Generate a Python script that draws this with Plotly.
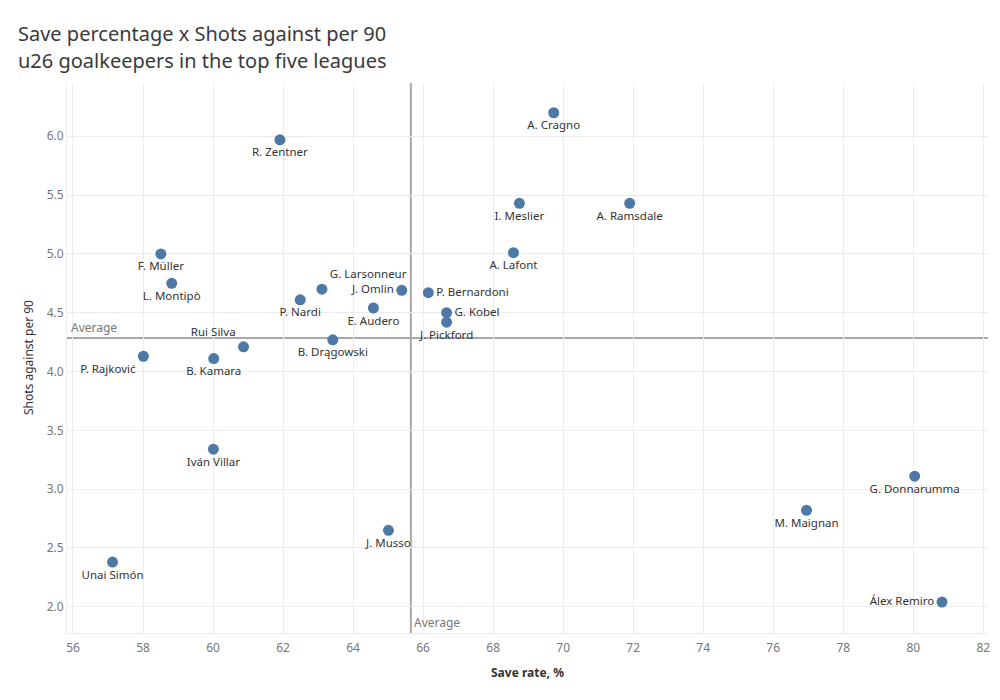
import plotly.graph_objects as go

# ---- data ----
players = ["A. Cragno", "R. Zentner", "I. Meslier", "A. Ramsdale", "F. Müller", "A. Lafont",
           "L. Montipò", "G. Larsonneur", "J. Omlin", "P. Bernardoni", "P. Nardi", "E. Audero",
           "G. Kobel", "J. Pickford", "B. Drągowski", "Rui Silva", "P. Rajković", "B. Kamara",
           "Iván Villar", "G. Donnarumma", "M. Maignan", "J. Musso", "Unai Simón", "Álex Remiro"]
save_rate = [69.73, 61.91, 68.75, 71.90, 58.51, 68.58,
             58.82, 63.11, 65.39, 66.15, 62.49, 64.58,
             66.67, 66.67, 63.42, 60.87, 58.01, 60.02,
             60.01, 80.04, 76.95, 65.01, 57.13, 80.82]
shots_against = [6.20, 5.97, 5.43, 5.43, 5.00, 5.01,
                 4.75, 4.70, 4.69, 4.67, 4.61, 4.54,
                 4.50, 4.42, 4.27, 4.21, 4.13, 4.11,
                 3.34, 3.11, 2.82, 2.65, 2.38, 2.04]
avg_save_rate = 65.65
avg_shots_against = 4.285
x_ticks = list(range(56, 83, 2))
y_ticks = [2.0, 2.5, 3.0, 3.5, 4.0, 4.5, 5.0, 5.5, 6.0]
title_lines = ["Save percentage x Shots against per 90", "u26 goalkeepers in the top five leagues"]
x_title = "Save rate, %"
y_title = "Shots against per 90"

# ---- label placement (style) ----
special_pos = {
    "J. Omlin": "middle left",
    "P. Bernardoni": "middle right",
    "G. Kobel": "middle right",
    "Álex Remiro": "middle left",
    "G. Larsonneur": "top right",
    "Rui Silva": "top left",
    "P. Rajković": "bottom left",
}
positions = [special_pos.get(p, "bottom center") for p in players]

FONT = "Noto Sans"
grid_c = "#ececec"
OFF = 8  # page body margin
W, H = 992, 692
L, T = 67 - OFF, 83 - OFF
R = W - (988 - OFF)
B = H - (633 - OFF)

fig = go.Figure()
fig.add_trace(go.Scatter(
    x=save_rate, y=shots_against, mode="markers+text", text=players,
    textposition=positions,
    textfont=dict(family=FONT, size=11.5, color="#333333"),
    marker=dict(size=11, color="#4e79a7"),
    hoverinfo="text", showlegend=False, cliponaxis=False,
))

fig.add_shape(type="line", xref="x", yref="paper", x0=avg_save_rate, x1=avg_save_rate, y0=0, y1=1,
              line=dict(color="#a8a8a8", width=2), layer="below")
fig.add_shape(type="line", xref="paper", yref="y", x0=0, x1=1, y0=avg_shots_against, y1=avg_shots_against,
              line=dict(color="#a8a8a8", width=2), layer="below")
fig.add_annotation(xref="paper", yref="y", x=0.002, y=avg_shots_against, text="Average",
                   showarrow=False, xanchor="left", yanchor="bottom",
                   font=dict(family=FONT, size=12, color="#777777"))
fig.add_annotation(xref="x", yref="paper", x=avg_save_rate, y=0.0, text="Average",
                   showarrow=False, xanchor="left", yanchor="bottom", xshift=1,
                   font=dict(family=FONT, size=12, color="#777777"))

ph = H - T - B
pw = W - L - R
def px_to_paper_x(px):
    return (px - OFF - L) / pw
def px_to_paper_y(py):
    return (H - B - (py - OFF)) / ph

for line, yc in zip(title_lines, [33, 60]):
    fig.add_annotation(xref="paper", yref="paper", x=px_to_paper_x(16), y=px_to_paper_y(yc),
                       text=line, showarrow=False, xanchor="left", yanchor="middle",
                       font=dict(family=FONT, size=20, color="#3a3a3a"))
fig.add_annotation(xref="paper", yref="paper", x=0.5, y=px_to_paper_y(672), text="<b>" + x_title + "</b>",
                   showarrow=False, xanchor="center", yanchor="middle",
                   font=dict(family=FONT, size=12, color="#333333"))
fig.add_annotation(xref="paper", yref="paper", x=px_to_paper_x(28), y=0.5, text=y_title, textangle=-90,
                   showarrow=False, xanchor="center", yanchor="middle",
                   font=dict(family=FONT, size=12, color="#333333"))

fig.update_layout(
    width=W, height=H,
    margin=dict(l=L, r=R, t=T, b=B),
    paper_bgcolor="white", plot_bgcolor="white",
    font=dict(family=FONT),
)
fig.update_xaxes(range=[55.829, 82.134], tickvals=x_ticks, showgrid=True, gridcolor=grid_c,
                 zeroline=False, showline=True, linecolor=grid_c, ticks="", ticklabelstandoff=4,
                 automargin=False,
                 tickfont=dict(family=FONT, size=12, color="#777777"))
fig.update_yaxes(range=[1.777, 6.453], tickvals=y_ticks, tickformat=".1f", showgrid=True, gridcolor=grid_c,
                 zeroline=False, showline=True, linecolor=grid_c, ticks="", automargin=False,
                 tickfont=dict(family=FONT, size=12, color="#777777"))

fig.write_html("out.html")
